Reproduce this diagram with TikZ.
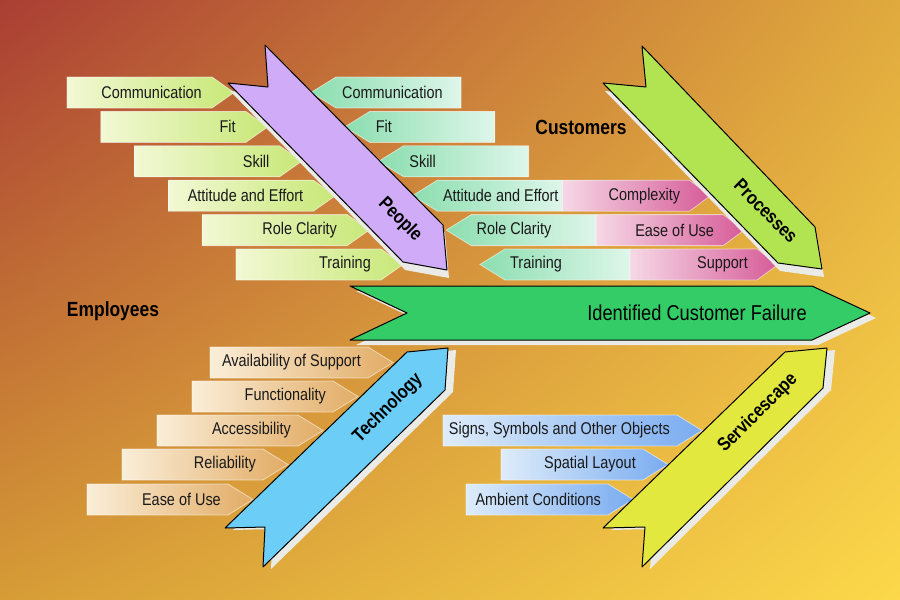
\documentclass[tikz,border=0pt]{standalone}
\usepackage{fontspec}
\setmainfont[FakeStretch=0.85]{Liberation Sans}
\usepackage{tikz}
\usetikzlibrary{shadings}

\definecolor{bgtl}{RGB}{170,62,52}
\definecolor{bgtr}{RGB}{224,170,62}
\definecolor{bgbl}{RGB}{214,156,54}
\definecolor{bgbr}{RGB}{252,216,74}
\definecolor{peoplecol}{RGB}{208,172,248}
\definecolor{processcol}{RGB}{178,228,82}
\definecolor{techcol}{RGB}{108,206,246}
\definecolor{servicecol}{RGB}{226,232,62}
\definecolor{spinecol}{RGB}{52,204,102}
\definecolor{shadowcol}{RGB}{234,234,230}
\definecolor{empL}{RGB}{242,248,212}
\definecolor{empR}{RGB}{200,232,120}
\definecolor{custL}{RGB}{140,222,176}
\definecolor{custR}{RGB}{222,246,234}
\definecolor{procL}{RGB}{246,216,230}
\definecolor{procR}{RGB}{214,92,152}
\definecolor{techL}{RGB}{250,238,216}
\definecolor{techR}{RGB}{226,172,102}
\definecolor{servL}{RGB}{222,236,250}
\definecolor{servR}{RGB}{122,172,240}

\tikzset{
  bone/.style={draw=black, line width=1pt, line join=round},
  bonelabel/.style={font=\fontsize{19}{22}\selectfont\bfseries, inner sep=0pt},
  tagbox/.style={draw=white, draw opacity=0.55, line width=0.8pt},
  taglabel/.style={font=\fontsize{17}{20}\selectfont, text=black!90, inner sep=0pt},
  grouplabel/.style={font=\fontsize{20.5}{24}\selectfont\bfseries, inner sep=0pt},
}

\begin{document}
\begin{tikzpicture}[x=1pt,y=-1pt]
        \shade[upper left=bgtl, upper right=bgtr, lower left=bgbl, lower right=bgbr] (0,0) rectangle (900,600);
        \useasboundingbox (0,0) rectangle (900,600);

        % employee tags of the people bone
        \foreach \i/\t in {0/Communication,1/Fit,2/Skill,3/Attitude and Effort,4/Role Clarity,5/Training}{
            \shadedraw[tagbox, left color=empL, right color=empR] ({67+33.8*\i},{77+34.4*\i}) -- ++(145,0) -- ++(22,15.5) -- ++(-22,15.5) -- ++(-145,0) -- cycle;
            \node[taglabel, anchor=east] (emp\i) at ({202+33.8*\i},{92.5+34.4*\i}) {\t};
        }
        % customer tags of the people bone
        \foreach \i/\t in {0/Communication,1/Fit,2/Skill,3/Attitude and Effort,4/Role Clarity,5/Training}{
            \shadedraw[tagbox, left color=custL, right color=custR] ({461+33.8*\i},{77+34.4*\i}) -- ++(-125,0) -- ++(-25,15.5) -- ++(25,15.5) -- ++(125,0) -- cycle;
            \node[taglabel, anchor=west] (cust\i) at ({342+33.6*\i},{92.5+34.4*\i}) {\t};
        }
        % process tags
        \foreach \i/\t in {3/Complexity,4/Ease of Use,5/Support}{
            \shadedraw[tagbox, left color=procL, right color=procR] ({461+33.8*\i},{77+34.4*\i}) -- ++(127,0) -- ++(21,15.5) -- ++(-21,15.5) -- ++(-127,0) -- cycle;
            \node[taglabel, anchor=east] (proc\i) at ({579+33.8*\i},{92.5+34.4*\i}) {\t};
        }
        % technology tags
        \foreach \l/\t/\w/\s [count=\n] in {210/347/158/Availability of Support,192/381/141/Functionality,157/415/141/Accessibility,122/449/141/Reliability,87/484/141/Ease of Use}{
            \shadedraw[tagbox, left color=techL, right color=techR] (\l,\t) -- ++(\w,0) -- ++(25,15.5) -- ++(-25,15.5) -- ++(-\w,0) -- cycle;
            \node[taglabel, anchor=east] (tech\n) at ({\l+\w-7},{\t+15.5}) {\s};
        }
        % servicescape tags
        \foreach \l/\t/\w/\s [count=\n] in {443/415/234/{Signs, Symbols and Other Objects},501/449/142/Spatial Layout,466/484/142/Ambient Conditions}{
            \shadedraw[tagbox, left color=servL, right color=servR] (\l,\t) -- ++(\w,0) -- ++(25,15.5) -- ++(-25,15.5) -- ++(-\w,0) -- cycle;
            \node[taglabel, anchor=east] (serv\n) at ({\l+\w-7},{\t+15.5}) {\s};
        }

        % the four bones
        \fill[shadowcol, shift={(2,8)}] (265,45) -- (443,225) -- (447,270) -- (403,262) -- (228,83) -- (268,87) -- cycle;
        \draw[bone, fill=peoplecol] (265,45) -- (443,225) -- (447,270) -- (403,262) -- (228,83) -- (268,87) -- cycle;
        \fill[shadowcol, shift={(2,8)}] (642,46) -- (815,227) -- (822,269) -- (778,263) -- (603,83) -- (646,87) -- cycle;
        \draw[bone, fill=processcol] (642,46) -- (815,227) -- (822,269) -- (778,263) -- (603,83) -- (646,87) -- cycle;
        \fill[shadowcol, shift={(8,2)}] (407,352) -- (448,348) -- (445,390) -- (263,567) -- (265,527) -- (225,528) -- cycle;
        \draw[bone, fill=techcol] (407,352) -- (448,348) -- (445,390) -- (263,567) -- (265,527) -- (225,528) -- cycle;
        \fill[shadowcol, shift={(8,2)}] (785,352) -- (827,348) -- (823,388) -- (642,567) -- (645,527) -- (603,528) -- cycle;
        \draw[bone, fill=servicecol] (785,352) -- (827,348) -- (823,388) -- (642,567) -- (645,527) -- (603,528) -- cycle;

        \node[bonelabel, rotate=-45] (people) at (400,220) {People};
        \node[bonelabel, rotate=-45] (processes) at (766,211) {Processes};
        \node[bonelabel, rotate=45] (technology) at (388,408) {Technology};
        \node[bonelabel, rotate=45] (servicescape) at (758,413) {Servicescape};

        % spine
        \fill[shadowcol, shift={(6,5)}] (350,286) -- (812,286) -- (870,313) -- (812,340) -- (350,340) -- (407,313) -- cycle;
        \draw[bone, fill=spinecol] (350,286) -- (812,286) -- (870,313) -- (812,340) -- (350,340) -- (407,313) -- cycle;
        \node[font=\fontsize{21.5}{25}\selectfont, inner sep=0pt] (failure) at (697,313) {Identified Customer Failure};

        \node[grouplabel] (employees) at (113,311) {Employees};
        \node[grouplabel] (customers) at (581,127) {Customers};
    \end{tikzpicture}
\end{document}
